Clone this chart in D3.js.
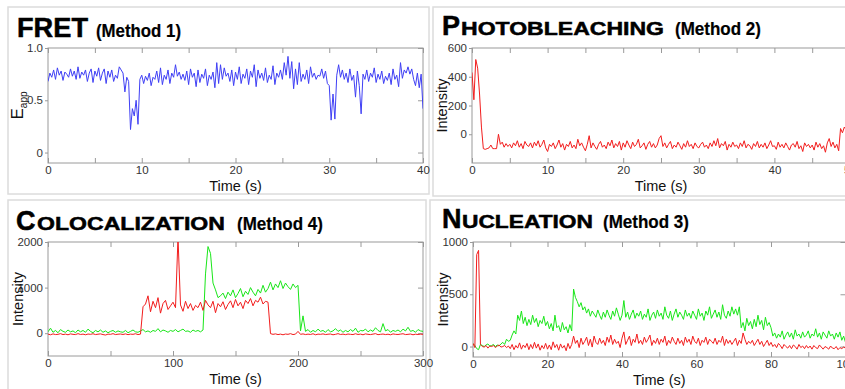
<!DOCTYPE html>
<html>
<head>
<meta charset="utf-8">
<script src="https://cdnjs.cloudflare.com/ajax/libs/d3/7.8.5/d3.min.js"></script>
<style>
  body { margin: 0; background: #fff; }
  svg { display: block; font-family: "Liberation Sans", Arial, sans-serif; }
</style>
</head>
<body>
<div id="graphArea"></div>
<script>
// ---- data ----
// FRET efficiency, one sample every 0.2 s
var fretStep = 0.2
var fretE = [
  0.68,0.76,0.72,0.79,0.70,0.81,0.74,0.78,0.69,0.77,
  0.75,0.72,0.80,0.73,0.78,0.70,0.82,0.71,0.77,0.74,
  0.79,0.68,0.76,0.80,0.67,0.78,0.73,0.81,0.69,0.76,
  0.80,0.66,0.78,0.72,0.79,0.68,0.74,0.71,0.82,0.79,
  0.76,0.58,0.72,0.68,0.22,0.42,0.35,0.50,0.27,0.70,
  0.74,0.66,0.73,0.69,0.76,0.64,0.72,0.70,0.78,0.67,
  0.81,0.65,0.74,0.70,0.79,0.66,0.76,0.72,0.84,0.73,
  0.77,0.70,0.75,0.69,0.78,0.65,0.80,0.72,0.76,0.63,
  0.79,0.67,0.75,0.71,0.80,0.64,0.74,0.70,0.77,0.62,
  0.86,0.66,0.84,0.70,0.81,0.73,0.76,0.68,0.79,0.64,
  0.77,0.70,0.82,0.66,0.75,0.71,0.80,0.65,0.78,0.72,
  0.84,0.63,0.79,0.71,0.76,0.69,0.81,0.67,0.74,0.70,
  0.83,0.65,0.76,0.72,0.79,0.70,0.86,0.74,0.92,0.71,
  0.87,0.61,0.80,0.65,0.86,0.68,0.75,0.70,0.79,0.66,
  0.82,0.72,0.76,0.70,0.74,0.73,0.80,0.71,0.78,0.66,
  0.64,0.31,0.56,0.32,0.74,0.84,0.72,0.79,0.70,0.76,
  0.67,0.80,0.69,0.74,0.53,0.78,0.64,0.37,0.75,0.70,
  0.79,0.68,0.76,0.72,0.81,0.67,0.75,0.70,0.78,0.66,
  0.73,0.69,0.76,0.65,0.80,0.70,0.74,0.63,0.86,0.71,
  0.79,0.76,0.82,0.75,0.80,0.70,0.64,0.76,0.62,0.75,
  0.42
]

// photobleaching intensity, one sample every 0.25 s
var bleachStep = 0.25
var bleachI = [
  430,240,520,460,280,50,-100,-105,-100,-95,
  -75,-100,-100,-100,0,-70,-55,-90,-65,-85,
  -70,-95,-60,-80,-45,-90,-65,-100,-50,-75,
  -85,-60,-95,-55,-80,-45,-90,-70,-40,-95,
  -120,-70,-85,-60,-100,-75,-40,-90,-65,-110,
  -70,-85,-50,-95,-75,-100,-35,-80,-60,-90,
  -115,-70,-10,-95,-60,-85,-105,-70,-50,-90,
  -75,-100,-55,-80,-40,-95,-65,-85,-50,-110,
  -60,-90,-45,-75,-100,-55,-85,-70,-35,-95,
  -80,-60,-105,-70,-50,-90,-65,-95,-75,-30,
  -10,-85,-60,-95,-70,-50,-100,-75,-90,-55,
  -80,-105,-65,-90,-45,-85,-70,-100,-60,-85,
  -95,-70,-55,-90,-75,-100,-60,-85,-45,-80,
  -30,-95,-65,-80,-50,-110,-70,-90,-55,-85,
  -75,-100,-60,-85,-45,-95,-70,-80,-105,-65,
  -85,-50,-95,-70,-90,-60,-100,-75,-45,-85,
  -80,-105,-55,-90,-70,-95,-60,-85,-110,-75,
  -65,-90,-50,-100,-80,-120,-60,-85,-70,-95,
  -75,-110,-55,-90,-65,-100,-80,-125,-60,-30,
  -85,-55,-95,-70,-115,40,10,50,30,60,
  20
]

// colocalization, one sample every 2 s
var colocStep = 2
var colocRed = [
  -20,-35,-15,-30,-25,-10,-30,-20,-35,-15,
  -25,-30,-10,-28,-20,-35,-18,-25,-12,-30,
  -22,-15,-30,-40,-20,-25,-10,-30,-22,-18,
  -28,-15,-32,-20,-25,-12,-30,-20,580,640,
  820,470,700,560,780,440,650,720,520,600,
  680,560,2100,620,480,700,540,650,500,610,
  560,680,500,720,620,560,700,450,650,580,
  690,520,630,710,560,740,600,680,540,720,
  650,760,600,720,680,790,640,700,680,-10,
  -25,-15,-30,-20,-35,-18,-25,-10,-30,-20,
  40,-25,-15,-30,-20,-28,-12,-35,-20,-25,
  -15,-30,-22,-18,-35,-25,-10,-28,-20,-32,
  -18,-25,-30,-12,-28,-20,-35,-15,-25,-30,
  -20,-10,-32,-25,-18,-30,-22,-35,-15,-25,
  -28,-20,-12,-30,-25,-18,-35,-22,-28,-20,
  -25
]
var colocGreen = [
  30,110,20,60,10,80,40,20,70,30,
  50,10,70,30,60,20,90,40,10,60,
  30,70,20,50,10,40,60,20,50,30,
  20,60,10,40,70,30,20,50,80,30,
  50,20,60,40,100,30,70,50,20,60,
  40,80,30,60,90,40,50,20,70,40,
  60,30,70,1300,1900,1750,1100,950,780,820,
  880,760,900,820,950,780,870,980,800,920,
  850,1000,900,820,960,880,1050,900,980,1120,
  950,1080,1000,1150,980,1100,1020,960,1080,1000,
  1050,50,380,40,80,20,60,30,90,40,
  60,20,80,30,50,100,40,70,20,60,
  30,80,40,110,20,60,50,90,30,70,
  40,120,60,30,210,50,80,20,60,40,
  70,30,90,50,130,40,60,20,80,50,
  40
]

// nucleation, one sample every 0.5 s
var nucStep = 0.5
var nucRed = [
  30,-10,880,920,20,0,-5,10,-15,5,
  0,10,-10,5,15,-5,0,10,-10,5,
  -20,20,-30,10,-15,35,-25,15,-10,30,
  -30,20,-20,40,-15,25,-35,10,-20,30,
  -25,15,-30,45,-10,20,-35,25,-15,10,
  -40,30,-20,20,100,30,60,-10,80,20,
  50,90,10,70,-5,100,40,20,80,30,
  60,10,90,40,110,20,70,30,50,-10,
  80,140,20,60,100,10,70,40,120,30,
  60,20,90,40,70,110,10,60,30,80,
  20,70,40,100,10,60,30,90,50,20,
  80,30,60,10,90,40,70,20,100,50,
  30,80,10,60,40,90,20,70,50,30,
  80,20,60,40,100,10,70,30,60,20,
  50,80,10,60,30,130,70,20,50,30,
  60,10,40,70,20,50,0,30,60,10,
  40,0,20,-10,30,10,-20,20,0,-15,
  10,-20,15,0,-25,20,-10,5,-20,10,
  -15,5,-25,10,-10,-20,15,-5,-25,0,
  -10,-25,5,-15,-20,0,-30,-10,-20,-5,
  -15
]
var nucGreen = [
  30,10,-20,-30,20,10,0,15,25,5,
  10,20,0,15,5,25,40,20,70,50,
  60,110,150,120,300,250,340,220,280,200,
  260,210,300,230,270,190,250,220,290,200,
  240,170,220,150,300,180,200,140,230,160,
  190,130,210,150,550,470,430,380,420,350,
  380,320,360,290,340,310,280,350,300,260,
  330,280,350,300,260,340,290,370,310,250,
  300,440,280,330,260,310,350,270,320,290,
  340,260,310,280,360,250,300,330,270,350,
  290,320,260,380,300,270,340,250,310,360,
  280,330,300,260,350,290,320,270,340,300,
  260,360,290,320,250,340,300,380,270,310,
  350,280,330,260,400,300,270,340,290,380,
  310,360,300,380,180,230,150,270,200,240,
  170,260,190,300,210,250,160,280,200,230,
  180,100,130,80,120,90,150,70,110,140,
  90,130,70,160,100,120,80,140,90,110,
  150,80,120,100,170,90,130,70,140,110,
  80,150,100,120,70,130,90,140,60,100,
  40
]

var BLUE = "#3f3ff5", RED = "#f21d1d", GREEN = "#19e619"

var svg = d3.select("#graphArea").append("svg")
  .attr("width", 845)
  .attr("height", 389)

// light grey frames round the four figure panels
var frames = [[8,7,421,187],[433,7,425,189],[8,200,418,200],[430,200,425,200]]
svg.selectAll(".frame")
  .data(frames)
  .enter().append("rect")
  .attr("class","frame")
  .attr("x", function(d){ return d[0] })
  .attr("y", function(d){ return d[1] })
  .attr("width", function(d){ return d[2] })
  .attr("height", function(d){ return d[3] })
  .attr("fill","none")
  .attr("stroke","#dcdcdc")
  .attr("stroke-width",1.5)

function toPoints(values, step) {
  return values.map(function(v, i){ return [i*step, v] })
}

// small-caps style heading: big first letter, stretched rest
function heading(x, y, first, gap, rest, restW, method, mx, mw) {
  var g = svg.append("g").attr("class","heading")
    .attr("stroke","#000").attr("stroke-width",0.5)
  if (rest) {
    g.append("text").attr("x",x).attr("y",y)
      .attr("font-size",27).attr("font-weight","bold").text(first)
    g.append("text").attr("x",x+gap).attr("y",y)
      .attr("font-size",18.5).attr("font-weight","bold")
      .attr("textLength",restW).attr("lengthAdjust","spacingAndGlyphs")
      .text(rest)
  } else {
    g.append("text").attr("x",x).attr("y",y)
      .attr("font-size",27).attr("font-weight","bold")
      .attr("textLength",71).attr("lengthAdjust","spacingAndGlyphs")
      .text(first)
  }
  g.append("text").attr("x",mx).attr("y",y)
    .attr("font-size",17.5).attr("font-weight","bold").attr("stroke-width",0.2)
    .attr("textLength",mw).attr("lengthAdjust","spacingAndGlyphs")
    .text(method)
}

var clipId = 0
function panel(cfg) {
  var x = d3.scaleLinear().domain(cfg.xDomain).range([cfg.left, cfg.right])
  var y = d3.scaleLinear().domain(cfg.yDomain).range([cfg.bottom, cfg.top])
  var g = svg.append("g")
  var w = cfg.right - cfg.left, h = cfg.bottom - cfg.top

  clipId++
  svg.append("clipPath").attr("id","clip"+clipId)
    .append("rect").attr("x",cfg.left).attr("y",cfg.top).attr("width",w).attr("height",h)

  // bottom axis: inward ticks, labels only on the major ones
  var bottomAx = d3.axisBottom(x).tickValues(cfg.xTicks).tickSizeInner(-5).tickSizeOuter(0)
    .tickFormat(function(d){ return cfg.xLabels.indexOf(d) != -1 ? d : "" })
  var gb = g.append("g").attr("transform","translate(0,"+cfg.bottom+")").call(bottomAx)
  gb.selectAll("text").attr("dy","0.71em").attr("y",3)

  var topAx = d3.axisTop(x).tickValues(cfg.xTicks).tickSizeInner(-5).tickSizeOuter(0).tickFormat("")
  g.append("g").attr("transform","translate(0,"+cfg.top+")").call(topAx)

  var leftAx = d3.axisLeft(y).tickValues(cfg.yTicks).tickSizeInner(3).tickSizeOuter(0).tickPadding(2)
    .tickFormat(cfg.yFormat)
  g.append("g").attr("transform","translate("+cfg.left+",0)").call(leftAx)

  var rightAx = d3.axisRight(y).tickValues(cfg.yTicks).tickSizeInner(-5).tickSizeOuter(0).tickFormat("")
  g.append("g").attr("transform","translate("+cfg.right+",0)").call(rightAx)

  g.selectAll(".domain").remove()
  g.selectAll(".tick line").attr("stroke","#9a9a9a")
  g.selectAll(".tick text").attr("fill","#333").attr("font-size",11.5)
    .attr("font-family","Liberation Sans, Arial, sans-serif")

  g.append("rect").attr("x",cfg.left).attr("y",cfg.top).attr("width",w).attr("height",h)
    .attr("fill","none").attr("stroke","#9a9a9a").attr("stroke-width",1)

  var line = d3.line().x(function(d){ return x(d[0]) }).y(function(d){ return y(d[1]) })
  cfg.series.forEach(function(s){
    g.append("path")
      .datum(toPoints(s.values, s.step))
      .attr("clip-path","url(#clip"+clipId+")")
      .attr("d", line)
      .attr("fill","none")
      .attr("stroke", s.color)
      .attr("stroke-width",1)
      .attr("stroke-linejoin","round")
  })

  g.append("text")
    .attr("x",(cfg.left+cfg.right)/2).attr("y",cfg.bottom+28)
    .attr("text-anchor","middle").attr("font-size",14.5).attr("fill","#111")
    .text("Time (s)")

  var yl = g.append("text")
    .attr("transform","translate("+(cfg.left-25)+","+((cfg.top+cfg.bottom)/2)+") rotate(-90)")
    .attr("text-anchor","middle").attr("font-size",14.5).attr("fill","#111")
  if (cfg.yTitleSub) {
    yl.append("tspan").attr("font-size",17).text(cfg.yTitle)
    yl.append("tspan").attr("font-size",10).attr("dy",4).text(cfg.yTitleSub)
  } else {
    yl.text(cfg.yTitle)
  }
}

heading(17, 37, "FRET", 0, null, 0, "(Method 1)", 96, 85)
heading(442, 35, "P", 19, "HOTOBLEACHING", 203, "(Method 2)", 675, 86)
heading(16, 230, "C", 21, "OLOCALIZATION", 188, "(Method 4)", 237, 86)
heading(442, 228, "N", 20, "UCLEATION", 131, "(Method 3)", 603, 86)

panel({
  left:48, right:423, top:48, bottom:163,
  xDomain:[0,40], yDomain:[-0.1,1.0],
  xTicks:[0,5,10,15,20,25,30,35,40], xLabels:[0,10,20,30,40],
  yTicks:[0,0.5,1.0], yFormat:function(d){ return d == 0 ? "0" : d3.format(".1f")(d) },
  yTitle:"E", yTitleSub:"app",
  series:[{values:fretE, step:fretStep, color:BLUE}]
})

panel({
  left:472, right:850, top:48, bottom:163,
  xDomain:[0,50], yDomain:[-200,600],
  xTicks:[0,5,10,15,20,25,30,35,40,45,50], xLabels:[0,10,20,30,40,50],
  yTicks:[0,200,400,600], yFormat:d3.format("d"),
  yTitle:"Intensity",
  series:[{values:bleachI, step:bleachStep, color:RED}]
})

panel({
  left:48, right:423, top:242, bottom:356,
  xDomain:[0,300], yDomain:[-500,2000],
  xTicks:[0,50,100,150,200,250,300], xLabels:[0,100,200,300],
  yTicks:[0,1000,2000], yFormat:d3.format("d"),
  yTitle:"Intensity",
  series:[{values:colocGreen, step:colocStep, color:GREEN},
          {values:colocRed, step:colocStep, color:RED}]
})

panel({
  left:473, right:845.5, top:242, bottom:357,
  xDomain:[0,100], yDomain:[-100,1000],
  xTicks:[0,10,20,30,40,50,60,70,80,90,100], xLabels:[0,20,40,60,80,100],
  yTicks:[0,500,1000], yFormat:d3.format("d"),
  yTitle:"Intensity",
  series:[{values:nucGreen, step:nucStep, color:GREEN},
          {values:nucRed, step:nucStep, color:RED}]
})
</script>
</body>
</html>
